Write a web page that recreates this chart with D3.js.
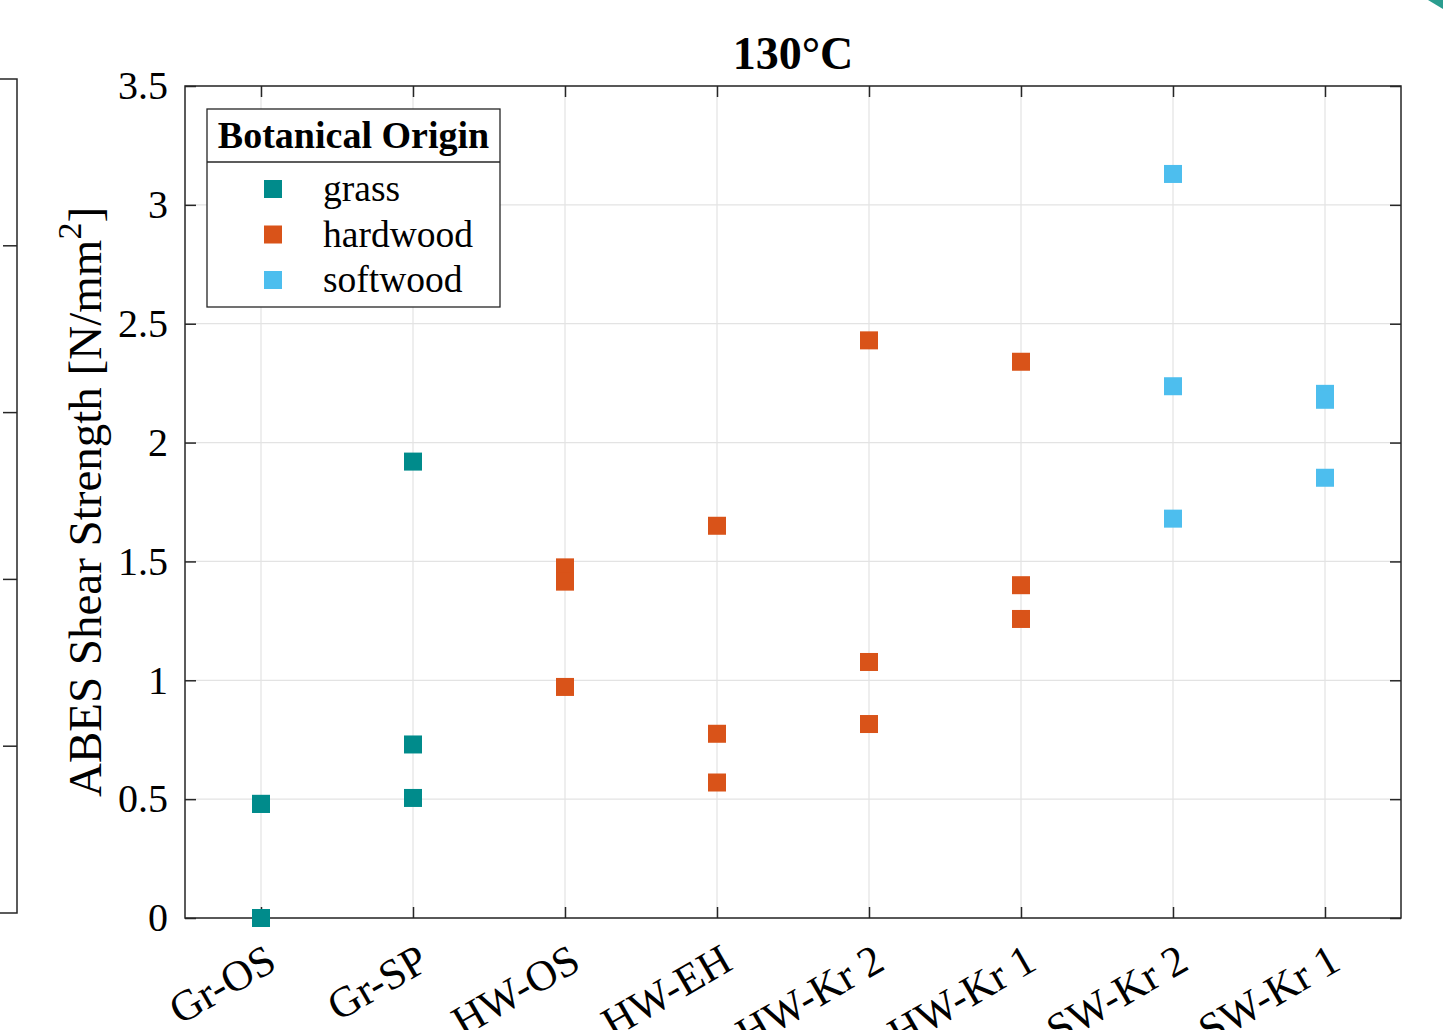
<!DOCTYPE html>
<html>
<head>
<meta charset="utf-8">
<script src="https://cdn.jsdelivr.net/npm/d3@7"></script>
<style>
  body { margin: 0; background: #fff; }
  text { font-family: "Liberation Serif", "Times New Roman", serif; fill: #000; }
</style>
</head>
<body>
<div id="chart"></div>
<script>
"use strict"

// data
let categories = ["Gr-OS", "Gr-SP", "HW-OS", "HW-EH", "HW-Kr 2", "HW-Kr 1", "SW-Kr 2", "SW-Kr 1"];
let categoryGroup = ["grass", "grass", "hardwood", "hardwood", "hardwood", "hardwood", "softwood", "softwood"];
let strengthValues = [
  [0.48, 0.48, 0],
  [1.92, 0.73, 0.505],
  [1.475, 1.415, 0.972],
  [1.65, 0.775, 0.57],
  [2.43, 1.077, 0.816],
  [2.34, 1.40, 1.258],
  [3.13, 2.237, 1.68],
  [2.205, 2.18, 1.852]
];
let groups = ["grass", "hardwood", "softwood"];
let groupColors = ["#008b8b", "#d95319", "#4dbeee"];
let yTicks = [0, 0.5, 1, 1.5, 2, 2.5, 3, 3.5];
let leftPanelTicks = [1, 2, 3, 4];

let width = 1443, height = 1030;
let margin = {left: 185, top: 86, right: 42, bottom: 112};
let axisColor = "#262626";
let gridColor = "#e3e3e3";

let svg = d3.select("#chart").append("svg")
  .attr("width", width)
  .attr("height", height);

let plotW = width - margin.left - margin.right;
let plotH = height - margin.top - margin.bottom;

let x = d3.scaleLinear().domain([0.5, categories.length + 0.5]).range([0, plotW]);
let y = d3.scaleLinear().domain([0, 3.5]).range([plotH, 0]);
let color = d3.scaleOrdinal().domain(groups).range(groupColors);

// fragment of the neighbouring panel on the left
let leftY = d3.scaleLinear().domain([0, 5]).range([913, 79]);
let leftG = svg.append("g");
leftG.append("path")
  .attr("d", "M0," + leftY(5) + "H17V" + leftY(0) + "H0")
  .attr("fill", "none").attr("stroke", axisColor).attr("stroke-width", 1.5);
leftG.selectAll("line.lt").data(leftPanelTicks).enter().append("line")
  .attr("x1", 3).attr("x2", 17)
  .attr("y1", d => leftY(d)).attr("y2", d => leftY(d))
  .attr("stroke", axisColor).attr("stroke-width", 1.5);

// teal corner of a neighbouring shape
svg.append("path")
  .attr("d", "M1428,0L1443,0L1443,9Z")
  .attr("fill", "#2a9d8f");

let g = svg.append("g")
  .attr("transform", "translate(" + margin.left + "," + margin.top + ")");

// grid
let idx = d3.range(1, categories.length + 1);
g.append("g").selectAll("line").data(idx).enter().append("line")
  .attr("x1", d => x(d)).attr("x2", d => x(d))
  .attr("y1", 0).attr("y2", plotH)
  .attr("stroke", gridColor).attr("stroke-width", 1.2);
g.append("g").selectAll("line").data(yTicks).enter().append("line")
  .attr("x1", 0).attr("x2", plotW)
  .attr("y1", d => y(d)).attr("y2", d => y(d))
  .attr("stroke", gridColor).attr("stroke-width", 1.2);

// axes with inward ticks
function styleAxis(sel) {
  sel.select(".domain").remove();
  sel.selectAll(".tick line").attr("stroke", axisColor).attr("stroke-width", 1.5);
}

let yAxis = g.append("g")
  .call(d3.axisLeft(y).tickValues(yTicks).tickSize(-11).tickPadding(17).tickFormat(d3.format("")));
styleAxis(yAxis);
yAxis.selectAll(".tick text")
  .style("font-family", "'Liberation Serif', 'Times New Roman', serif")
  .style("font-size", "40px").attr("fill", "#000");

let yAxisR = g.append("g").attr("transform", "translate(" + plotW + ",0)")
  .call(d3.axisRight(y).tickValues(yTicks).tickSize(-11).tickFormat(""));
styleAxis(yAxisR);

let xAxis = g.append("g").attr("transform", "translate(0," + plotH + ")")
  .call(d3.axisBottom(x).tickValues(idx).tickSize(-11).tickFormat(""));
styleAxis(xAxis);

let xAxisT = g.append("g")
  .call(d3.axisTop(x).tickValues(idx).tickSize(-11).tickFormat(""));
styleAxis(xAxisT);

g.append("rect")
  .attr("width", plotW).attr("height", plotH)
  .attr("fill", "none").attr("stroke", axisColor).attr("stroke-width", 1.5);

// rotated category labels
g.append("g").selectAll("text").data(categories).enter().append("text")
  .attr("transform", (d, i) => "translate(" + (x(i + 1) + 3) + "," + (plotH + 25) + ") rotate(-30)")
  .attr("text-anchor", "end")
  .attr("dy", "0.68em")
  .style("font-size", "43px")
  .text(d => d);

// points
let points = [];
strengthValues.forEach(function(vals, i) {
  vals.forEach(function(v) {
    points.push({cat: i + 1, value: v, group: categoryGroup[i]});
  });
});
let ms = 18;
g.append("g").selectAll("rect").data(points).enter().append("rect")
  .attr("x", d => x(d.cat) - ms / 2)
  .attr("y", d => y(d.value) - ms / 2)
  .attr("width", ms).attr("height", ms)
  .attr("fill", d => color(d.group));

// title
svg.append("text")
  .attr("x", margin.left + plotW / 2)
  .attr("y", 69)
  .attr("text-anchor", "middle")
  .style("font-size", "46px")
  .style("font-weight", "bold")
  .text("130°C");

// y label
let yl = svg.append("text")
  .attr("transform", "translate(101," + (margin.top + plotH / 2) + ") rotate(-90)")
  .attr("text-anchor", "middle")
  .style("font-size", "47px");
yl.append("tspan").text("ABES Shear Strength [N/mm");
yl.append("tspan").attr("dy", -20).style("font-size", "34px").text("2");
yl.append("tspan").attr("dy", 20).text("]");

// legend
let lg = svg.append("g").attr("transform", "translate(207,109)");
lg.append("rect")
  .attr("width", 293).attr("height", 198)
  .attr("fill", "#fff").attr("stroke", axisColor).attr("stroke-width", 1.3);
lg.append("line")
  .attr("x1", 0).attr("x2", 293).attr("y1", 53).attr("y2", 53)
  .attr("stroke", axisColor).attr("stroke-width", 1.3);
lg.append("text")
  .attr("x", 146.5).attr("y", 39)
  .attr("text-anchor", "middle")
  .style("font-size", "38px").style("font-weight", "bold")
  .text("Botanical Origin");
let rows = lg.selectAll("g.row").data(groups).enter().append("g")
  .attr("transform", (d, i) => "translate(0," + (80 + i * 45.5) + ")");
rows.append("rect")
  .attr("x", 66 - 9).attr("y", -9).attr("width", 18).attr("height", 18)
  .attr("fill", d => color(d));
rows.append("text")
  .attr("x", 116).attr("dy", "0.32em")
  .style("font-size", "37.5px")
  .text(d => d);
</script>
</body>
</html>
